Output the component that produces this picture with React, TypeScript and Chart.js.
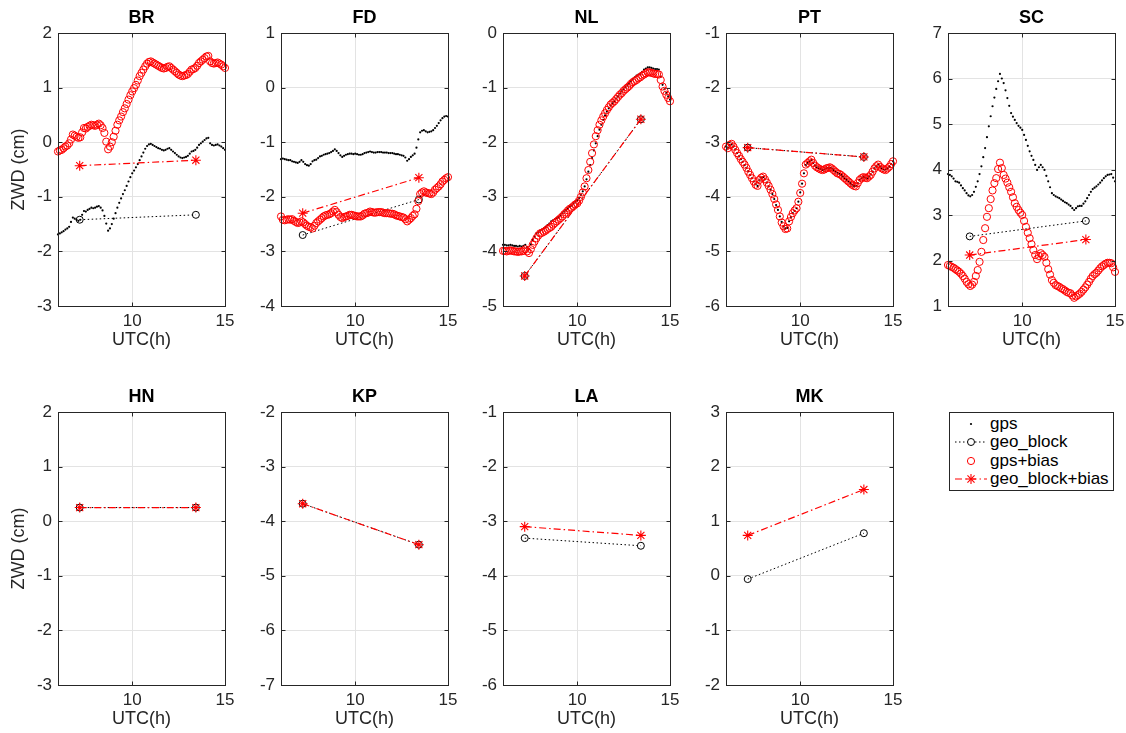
import React, { useEffect, useRef } from 'react';
import { Chart, registerables } from 'chart.js';

Chart.register(...registerables);

// ---------- data ----------
const HOURS = [
  6.0, 6.1, 6.2, 6.3, 6.4, 6.5, 6.6, 6.7, 6.8, 6.9,
  7.0, 7.1, 7.2, 7.3, 7.4, 7.5, 7.6, 7.7, 7.8, 7.9,
  8.0, 8.1, 8.2, 8.3, 8.4, 8.5, 8.6, 8.7, 8.8, 8.9,
  9.0, 9.1, 9.2, 9.3, 9.4, 9.5, 9.6, 9.7, 9.8, 9.9,
  10.0, 10.1, 10.2, 10.3, 10.4, 10.5, 10.6, 10.7, 10.8, 10.9,
  11.0, 11.1, 11.2, 11.3, 11.4, 11.5, 11.6, 11.7, 11.8, 11.9,
  12.0, 12.1, 12.2, 12.3, 12.4, 12.5, 12.6, 12.7, 12.8, 12.9,
  13.0, 13.1, 13.2, 13.3, 13.4, 13.5, 13.6, 13.7, 13.8, 13.9,
  14.0, 14.1, 14.2, 14.3, 14.4, 14.5, 14.6, 14.7, 14.8, 14.9,
  15.0,
];
const GEO_HOURS = [7.17, 13.43];
const X_TICKS = [10, 15];

const BR_GPS = [
  -1.69, -1.67, -1.65, -1.63, -1.60, -1.58, -1.55, -1.46, -1.38, -1.40,
  -1.42, -1.44, -1.42, -1.33, -1.26, -1.27, -1.24, -1.22, -1.20, -1.21,
  -1.20, -1.18, -1.17, -1.20, -1.25, -1.35, -1.49, -1.62, -1.58, -1.50,
  -1.40, -1.30, -1.20, -1.11, -1.03, -0.95, -0.88, -0.80, -0.72, -0.64,
  -0.57, -0.52, -0.46, -0.40, -0.33, -0.26, -0.19, -0.12, -0.07, -0.04,
  -0.03, -0.05, -0.07, -0.09, -0.11, -0.12, -0.14, -0.15, -0.14, -0.12,
  -0.11, -0.14, -0.17, -0.20, -0.23, -0.26, -0.28, -0.29, -0.28, -0.27,
  -0.25, -0.21, -0.17, -0.16, -0.14, -0.10, -0.05, -0.02, 0.01, 0.04,
  0.07, 0.08, -0.02, -0.05, -0.06, -0.05, -0.04, -0.06, -0.08, -0.11,
  -0.14,
];
const BR_GPS_BIAS = [
  -0.17, -0.15, -0.14, -0.11, -0.08, -0.06, -0.02, 0.05, 0.14, 0.12,
  0.10, 0.08, 0.09, 0.18, 0.26, 0.25, 0.28, 0.30, 0.32, 0.31,
  0.30, 0.32, 0.34, 0.31, 0.26, 0.17, 0.01, -0.13, -0.08, 0.00,
  0.10, 0.21, 0.32, 0.40, 0.47, 0.55, 0.62, 0.70, 0.78, 0.86,
  0.93, 0.99, 1.05, 1.13, 1.21, 1.27, 1.33, 1.39, 1.44, 1.47,
  1.48, 1.46, 1.44, 1.42, 1.40, 1.38, 1.36, 1.35, 1.36, 1.38,
  1.39, 1.36, 1.33, 1.30, 1.27, 1.24, 1.22, 1.21, 1.22, 1.23,
  1.25, 1.29, 1.33, 1.34, 1.36, 1.40, 1.45, 1.48, 1.51, 1.54,
  1.57, 1.58, 1.48, 1.45, 1.44, 1.45, 1.46, 1.44, 1.42, 1.39,
  1.36,
];
const BR_GEO = [-1.42, -1.33];
const BR_GEO_BIAS = [-0.43, -0.33];

const FD_GPS = [
  -1.31, -1.30, -1.31, -1.32, -1.33, -1.33, -1.35, -1.36, -1.37, -1.38,
  -1.36, -1.33, -1.36, -1.40, -1.42, -1.43, -1.40, -1.35, -1.33, -1.32,
  -1.29, -1.26, -1.25, -1.23, -1.22, -1.21, -1.20, -1.18, -1.16, -1.13,
  -1.16, -1.20, -1.24, -1.27, -1.25, -1.23, -1.22, -1.21, -1.21, -1.22,
  -1.21, -1.22, -1.23, -1.23, -1.22, -1.20, -1.19, -1.18, -1.17, -1.18,
  -1.19, -1.19, -1.18, -1.18, -1.18, -1.19, -1.19, -1.19, -1.20, -1.20,
  -1.20, -1.21, -1.22, -1.22, -1.23, -1.24, -1.25, -1.28, -1.34, -1.31,
  -1.27, -1.24, -1.21, -1.10, -0.95, -0.82, -0.79, -0.78, -0.80, -0.82,
  -0.81, -0.80, -0.78, -0.74, -0.70, -0.65, -0.60, -0.56, -0.53, -0.52,
  -0.53,
];
const FD_GPS_BIAS = [
  -2.36, -2.42, -2.43, -2.42, -2.41, -2.42, -2.41, -2.44, -2.46, -2.48,
  -2.47, -2.45, -2.47, -2.50, -2.53, -2.55, -2.56, -2.58, -2.53, -2.48,
  -2.45, -2.42, -2.39, -2.36, -2.34, -2.33, -2.32, -2.30, -2.27, -2.24,
  -2.28, -2.33, -2.37, -2.39, -2.37, -2.36, -2.35, -2.33, -2.33, -2.34,
  -2.35, -2.36, -2.36, -2.36, -2.34, -2.31, -2.30, -2.29, -2.27, -2.28,
  -2.29, -2.29, -2.28, -2.28, -2.28, -2.29, -2.30, -2.30, -2.30, -2.31,
  -2.31, -2.32, -2.34, -2.35, -2.36, -2.37, -2.38, -2.41, -2.45, -2.42,
  -2.39, -2.35, -2.32, -2.22, -2.08, -1.95, -1.92, -1.90, -1.92, -1.93,
  -1.94, -1.95, -1.92, -1.87, -1.84, -1.81, -1.77, -1.72, -1.69, -1.66,
  -1.64,
];
const FD_GEO = [-2.7, -2.05];
const FD_GEO_BIAS = [-2.3, -1.65];

const NL_GPS = [
  -3.88, -3.88, -3.89, -3.89, -3.88, -3.89, -3.90, -3.90, -3.91, -3.90,
  -3.91, -3.90, -3.88, -3.92, -3.96, -3.87, -3.79, -3.73, -3.67, -3.65,
  -3.62, -3.60, -3.58, -3.55, -3.52, -3.49, -3.45, -3.43, -3.41, -3.39,
  -3.37, -3.34, -3.30, -3.27, -3.24, -3.21, -3.18, -3.16, -3.12, -3.09,
  -3.06, -3.02, -2.97, -2.90, -2.81, -2.68, -2.54, -2.42, -2.29, -2.15,
  -2.02, -1.89, -1.77, -1.68, -1.59, -1.51, -1.44, -1.38, -1.33, -1.29,
  -1.25, -1.20, -1.16, -1.11, -1.07, -1.03, -0.99, -0.95, -0.92, -0.88,
  -0.84, -0.81, -0.78, -0.76, -0.75, -0.71, -0.67, -0.65, -0.63, -0.63,
  -0.64, -0.65, -0.66, -0.66, -0.67, -0.80, -0.95, -1.03, -1.10, -1.16,
  -1.22,
];
const NL_GPS_BIAS = [
  -3.99, -3.99, -4.00, -3.99, -3.98, -3.99, -4.00, -4.00, -4.01, -4.00,
  -4.00, -3.99, -3.96, -4.00, -4.03, -3.96, -3.88, -3.82, -3.76, -3.71,
  -3.67, -3.66, -3.64, -3.62, -3.59, -3.57, -3.55, -3.51, -3.48, -3.45,
  -3.42, -3.39, -3.36, -3.32, -3.29, -3.25, -3.22, -3.20, -3.17, -3.14,
  -3.12, -3.07, -3.00, -2.92, -2.81, -2.66, -2.51, -2.36, -2.20, -2.04,
  -1.89, -1.78, -1.68, -1.60, -1.53, -1.47, -1.41, -1.36, -1.31, -1.28,
  -1.25, -1.21, -1.17, -1.13, -1.10, -1.06, -1.03, -1.00, -0.97, -0.93,
  -0.90, -0.88, -0.86, -0.83, -0.81, -0.78, -0.76, -0.74, -0.72, -0.72,
  -0.73, -0.74, -0.75, -0.75, -0.76, -0.86, -0.98, -1.06, -1.13, -1.19,
  -1.25,
];
const NL_GEO = [-4.45, -1.58];
const NL_GEO_BIAS = [-4.45, -1.58];

const PT_GPS = [
  -3.08, -3.10, -3.05, -3.04, -3.08, -3.13, -3.20, -3.26, -3.31, -3.36,
  -3.42, -3.47, -3.53, -3.60, -3.66, -3.72, -3.77, -3.80, -3.70, -3.65,
  -3.64, -3.68, -3.74, -3.81, -3.87, -3.95, -4.04, -4.15, -4.24, -4.36,
  -4.46, -4.54, -4.58, -4.57, -4.45, -4.37, -4.30, -4.26, -4.21, -4.09,
  -3.92, -3.76, -3.57, -3.42, -3.38, -3.35, -3.33, -3.38, -3.43, -3.46,
  -3.48, -3.49, -3.51, -3.50, -3.48, -3.47, -3.47, -3.48, -3.51, -3.54,
  -3.56, -3.58, -3.60, -3.63, -3.66, -3.69, -3.72, -3.75, -3.78, -3.80,
  -3.80, -3.75, -3.69, -3.66, -3.64, -3.65, -3.66, -3.63, -3.59, -3.54,
  -3.48, -3.44, -3.41, -3.45, -3.48, -3.50, -3.50, -3.48, -3.45, -3.40,
  -3.35,
];
const PT_GPS_BIAS = [
  -3.08, -3.11, -3.05, -3.03, -3.08, -3.14, -3.20, -3.25, -3.31, -3.36,
  -3.41, -3.47, -3.54, -3.60, -3.66, -3.72, -3.78, -3.80, -3.69, -3.65,
  -3.63, -3.68, -3.74, -3.80, -3.87, -3.95, -4.04, -4.14, -4.24, -4.36,
  -4.47, -4.54, -4.59, -4.58, -4.45, -4.37, -4.30, -4.25, -4.21, -4.09,
  -3.93, -3.76, -3.57, -3.41, -3.38, -3.35, -3.32, -3.38, -3.43, -3.46,
  -3.48, -3.50, -3.51, -3.50, -3.48, -3.47, -3.46, -3.48, -3.51, -3.54,
  -3.57, -3.58, -3.60, -3.63, -3.66, -3.69, -3.72, -3.75, -3.78, -3.80,
  -3.81, -3.75, -3.69, -3.66, -3.64, -3.65, -3.66, -3.63, -3.60, -3.54,
  -3.48, -3.44, -3.41, -3.45, -3.48, -3.50, -3.51, -3.48, -3.45, -3.40,
  -3.35,
];
const PT_GEO = [-3.1, -3.27];
const PT_GEO_BIAS = [-3.1, -3.27];

const SC_GPS = [
  3.90, 3.88, 3.85, 3.80, 3.74, 3.73, 3.71, 3.65, 3.59, 3.54,
  3.48, 3.43, 3.41, 3.44, 3.51, 3.62, 3.74, 3.90, 4.07, 4.27,
  4.47, 4.71, 4.95, 5.17, 5.39, 5.58, 5.77, 5.94, 6.10, 6.00,
  5.90, 5.74, 5.57, 5.40, 5.24, 5.16, 5.09, 5.02, 4.96, 4.92,
  4.87, 4.76, 4.65, 4.52, 4.40, 4.30, 4.21, 4.10, 3.99, 4.05,
  4.10, 4.05, 3.99, 3.86, 3.74, 3.61, 3.48, 3.44, 3.41, 3.39,
  3.37, 3.34, 3.31, 3.28, 3.26, 3.23, 3.20, 3.15, 3.11, 3.15,
  3.19, 3.20, 3.20, 3.25, 3.30, 3.37, 3.44, 3.51, 3.57, 3.60,
  3.63, 3.67, 3.71, 3.76, 3.81, 3.85, 3.88, 3.89, 3.90, 3.82,
  3.74,
];
const SC_GPS_BIAS = [
  1.90, 1.88, 1.86, 1.84, 1.81, 1.78, 1.75, 1.71, 1.66, 1.60,
  1.53, 1.48, 1.44, 1.47, 1.53, 1.66, 1.79, 1.97, 2.19, 2.45,
  2.71, 2.96, 3.15, 3.35, 3.54, 3.70, 3.81, 4.01, 4.15, 4.03,
  3.88, 3.80, 3.71, 3.61, 3.51, 3.39, 3.26, 3.18, 3.11, 3.05,
  3.00, 2.87, 2.74, 2.61, 2.49, 2.36, 2.23, 2.12, 2.03, 2.10,
  2.16, 2.12, 2.08, 1.95, 1.81, 1.69, 1.57, 1.51, 1.46, 1.44,
  1.42, 1.39, 1.37, 1.34, 1.31, 1.29, 1.28, 1.23, 1.18, 1.21,
  1.24, 1.27, 1.31, 1.36, 1.41, 1.47, 1.53, 1.60, 1.66, 1.70,
  1.73, 1.78, 1.83, 1.87, 1.90, 1.93, 1.95, 1.95, 1.94, 1.85,
  1.75,
];
const SC_GEO = [2.53, 2.87];
const SC_GEO_BIAS = [2.12, 2.46];

const HN_GEO = [0.25, 0.25];
const HN_GEO_BIAS = [0.25, 0.25];
const KP_GEO = [-3.68, -4.43];
const KP_GEO_BIAS = [-3.68, -4.43];
const LA_GEO = [-3.31, -3.45];
const LA_GEO_BIAS = [-3.1, -3.26];
const MK_GEO = [-0.06, 0.78];
const MK_GEO_BIAS = [0.74, 1.58];

const EMPTY: number[] = [];

type Panel = {
  name: string; row: number; col: number; yMin: number; yMax: number;
  gps: number[]; gpsBias: number[]; geo: number[]; geoBias: number[];
};

const PANELS: Panel[] = [
  { name: 'BR', row: 0, col: 0, yMin: -3, yMax: 2, gps: BR_GPS, gpsBias: BR_GPS_BIAS, geo: BR_GEO, geoBias: BR_GEO_BIAS },
  { name: 'FD', row: 0, col: 1, yMin: -4, yMax: 1, gps: FD_GPS, gpsBias: FD_GPS_BIAS, geo: FD_GEO, geoBias: FD_GEO_BIAS },
  { name: 'NL', row: 0, col: 2, yMin: -5, yMax: 0, gps: NL_GPS, gpsBias: NL_GPS_BIAS, geo: NL_GEO, geoBias: NL_GEO_BIAS },
  { name: 'PT', row: 0, col: 3, yMin: -6, yMax: -1, gps: PT_GPS, gpsBias: PT_GPS_BIAS, geo: PT_GEO, geoBias: PT_GEO_BIAS },
  { name: 'SC', row: 0, col: 4, yMin: 1, yMax: 7, gps: SC_GPS, gpsBias: SC_GPS_BIAS, geo: SC_GEO, geoBias: SC_GEO_BIAS },
  { name: 'HN', row: 1, col: 0, yMin: -3, yMax: 2, gps: EMPTY, gpsBias: EMPTY, geo: HN_GEO, geoBias: HN_GEO_BIAS },
  { name: 'KP', row: 1, col: 1, yMin: -7, yMax: -2, gps: EMPTY, gpsBias: EMPTY, geo: KP_GEO, geoBias: KP_GEO_BIAS },
  { name: 'LA', row: 1, col: 2, yMin: -6, yMax: -1, gps: EMPTY, gpsBias: EMPTY, geo: LA_GEO, geoBias: LA_GEO_BIAS },
  { name: 'MK', row: 1, col: 3, yMin: -2, yMax: 3, gps: EMPTY, gpsBias: EMPTY, geo: MK_GEO, geoBias: MK_GEO_BIAS },
];

const LEGEND_LABELS = ['gps', 'geo_block', 'gps+bias', 'geo_block+bias'];

// ---------- layout / style ----------
const FONT = "'Liberation Sans', Arial, Helvetica, sans-serif";
const AX = '#262626';
const GRID = '#e3e3e3';
const RED = '#ff0000';
const COL_LEFT = [58, 281, 503, 726, 948];
const ROW_TOP = [33, 412];
const AXES_W = 167;
const AXES_H = 273;
const Y_AXIS_W = 58;
const X_AXIS_H = 55;
const TITLE_H = 33;
const PAD_R = 22;

const pts = (xs: number[], ys: number[]) => ys.map((y, i) => ({ x: xs[i], y }));

const framePlugin = {
  id: 'frame',
  afterDatasetsDraw(chart: any) {
    const { ctx, chartArea: a, scales } = chart;
    ctx.save();
    ctx.strokeStyle = AX;
    ctx.lineWidth = 1;
    const l = Math.round(a.left) + 0.5;
    const r = Math.round(a.right) + 0.5;
    const t = Math.round(a.top) + 0.5;
    const b = Math.round(a.bottom) + 0.5;
    ctx.strokeRect(l, t, r - l, b - t);
    ctx.beginPath();
    scales.y.ticks.forEach((tk: any) => {
      const y = Math.round(scales.y.getPixelForValue(tk.value)) + 0.5;
      ctx.moveTo(l, y); ctx.lineTo(l + 4, y);
      ctx.moveTo(r, y); ctx.lineTo(r - 4, y);
    });
    scales.x.ticks.forEach((tk: any) => {
      const x = Math.round(scales.x.getPixelForValue(tk.value)) + 0.5;
      ctx.moveTo(x, b); ctx.lineTo(x, b - 4);
      ctx.moveTo(x, t); ctx.lineTo(x, t + 4);
    });
    ctx.stroke();
    ctx.restore();
  },
};

function buildConfig(p: Panel): any {
  return {
    type: 'line',
    data: {
      datasets: [
        {
          label: LEGEND_LABELS[0], data: pts(HOURS, p.gps), showLine: false,
          pointStyle: 'circle', pointRadius: 1.1, pointBackgroundColor: '#000',
          pointBorderWidth: 0, borderColor: '#000', order: 4, clip: false,
        },
        {
          label: LEGEND_LABELS[1], data: pts(GEO_HOURS, p.geo), borderColor: '#000',
          borderWidth: 1, borderDash: [1.5, 2.5], pointStyle: 'circle', pointRadius: 3.5,
          pointBorderColor: '#000', pointBackgroundColor: 'rgba(0,0,0,0)', pointBorderWidth: 1,
          order: 3, fill: false, tension: 0, clip: false,
        },
        {
          label: LEGEND_LABELS[2], data: pts(HOURS, p.gpsBias), showLine: false,
          pointStyle: 'circle', pointRadius: 3.6, pointBorderColor: RED,
          pointBackgroundColor: 'rgba(0,0,0,0)', pointBorderWidth: 1, borderColor: RED,
          order: 2, clip: false,
        },
        {
          label: LEGEND_LABELS[3], data: pts(GEO_HOURS, p.geoBias), borderColor: RED,
          borderWidth: 1.2, borderDash: [7, 3, 1.5, 3], pointStyle: 'star', pointRadius: 5,
          pointBorderColor: RED, pointBackgroundColor: RED, pointBorderWidth: 1.1,
          order: 1, fill: false, tension: 0, clip: false,
        },
      ],
    },
    options: {
      animation: false,
      responsive: false,
      devicePixelRatio: 1,
      events: [],
      layout: { padding: { left: 0, top: 0, right: PAD_R, bottom: 0 } },
      plugins: {
        legend: { display: false },
        tooltip: { enabled: false },
        title: {
          display: true, text: p.name, color: '#000', fullSize: false,
          font: { family: FONT, size: 18, weight: 'bold', lineHeight: '20px' },
          padding: { top: 8, bottom: 5 },
        },
      },
      scales: {
        x: {
          type: 'linear', min: 6, max: 15,
          afterBuildTicks: (s: any) => { s.ticks = X_TICKS.map((v) => ({ value: v })); },
          afterFit: (s: any) => { s.height = X_AXIS_H; },
          grid: { color: GRID, lineWidth: 1, drawTicks: false },
          border: { display: false },
          ticks: { color: AX, font: { family: FONT, size: 17 }, padding: 5, maxRotation: 0, autoSkip: false },
          title: {
            display: true, text: 'UTC(h)', color: AX,
            font: { family: FONT, size: 18 }, padding: { top: 0, bottom: 10 },
          },
        },
        y: {
          type: 'linear', min: p.yMin, max: p.yMax,
          afterFit: (s: any) => { s.width = Y_AXIS_W; },
          grid: { color: GRID, lineWidth: 1, drawTicks: false },
          border: { display: false },
          ticks: { stepSize: 1, color: AX, font: { family: FONT, size: 17 }, padding: 6 },
          title: {
            display: p.col === 0, text: 'ZWD (cm)', color: AX,
            font: { family: FONT, size: 18 }, padding: { top: 8, bottom: 0 },
          },
        },
      },
    },
    plugins: [framePlugin],
  };
}

function LegendMarker({ i }: { i: number }) {
  const cx = 21;
  const cy = 10;
  if (i === 0) return <circle cx={cx} cy={cy} r={1.1} fill="#000" />;
  if (i === 1)
    return (
      <g>
        <line x1={5} y1={cy} x2={37} y2={cy} stroke="#000" strokeWidth={1} strokeDasharray="1.5 2.5" />
        <circle cx={cx} cy={cy} r={3.5} fill="#fff" stroke="#000" strokeWidth={1} />
      </g>
    );
  if (i === 2) return <circle cx={cx} cy={cy} r={3.6} fill="none" stroke={RED} strokeWidth={1} />;
  const arms = [0, 45, 90, 135].map((deg) => {
    const rad = (deg * Math.PI) / 180;
    const dx = 5 * Math.cos(rad);
    const dy = 5 * Math.sin(rad);
    return <line key={deg} x1={cx - dx} y1={cy - dy} x2={cx + dx} y2={cy + dy} stroke={RED} strokeWidth={1.1} />;
  });
  return (
    <g>
      <line x1={5} y1={cy} x2={37} y2={cy} stroke={RED} strokeWidth={1.2} strokeDasharray="7 3 1.5 3" />
      {arms}
    </g>
  );
}

function Legend() {
  const rowCenters = [10.5, 29, 47.5, 66];
  return (
    <div
      style={{
        position: 'absolute', left: 949, top: 412, width: 165, height: 79,
        boxSizing: 'border-box', border: `1px solid ${AX}`, background: '#fff',
        fontFamily: FONT, fontSize: 17, color: '#000',
      }}
    >
      {LEGEND_LABELS.map((lab, i) => (
        <div key={lab} style={{ position: 'absolute', left: 0, top: rowCenters[i] - 10, height: 20, width: 163 }}>
          <svg width={40} height={20} style={{ position: 'absolute', left: 0, top: 0 }}>
            <LegendMarker i={i} />
          </svg>
          <span style={{ position: 'absolute', left: 40, top: 0, lineHeight: '20px', whiteSpace: 'nowrap' }}>{lab}</span>
        </div>
      ))}
    </div>
  );
}

export default function App() {
  const refs = useRef<(HTMLCanvasElement | null)[]>([]);

  useEffect(() => {
    const charts = PANELS.map((p, i) => new Chart(refs.current[i] as HTMLCanvasElement, buildConfig(p)));
    return () => charts.forEach((c) => c.destroy());
  }, []);

  return (
    <div style={{ position: 'fixed', left: 0, top: 0, width: 1126, height: 733, background: '#fff', overflow: 'hidden' }}>
      {PANELS.map((p, i) => {
        const left = COL_LEFT[p.col] - Y_AXIS_W;
        const top = ROW_TOP[p.row] - TITLE_H;
        const w = Y_AXIS_W + AXES_W + PAD_R;
        const h = TITLE_H + AXES_H + X_AXIS_H;
        return (
          <canvas
            key={p.name}
            ref={(el) => { refs.current[i] = el; }}
            width={w}
            height={h}
            style={{ position: 'absolute', left, top, width: w, height: h }}
          />
        );
      })}
      <Legend />
    </div>
  );
}
